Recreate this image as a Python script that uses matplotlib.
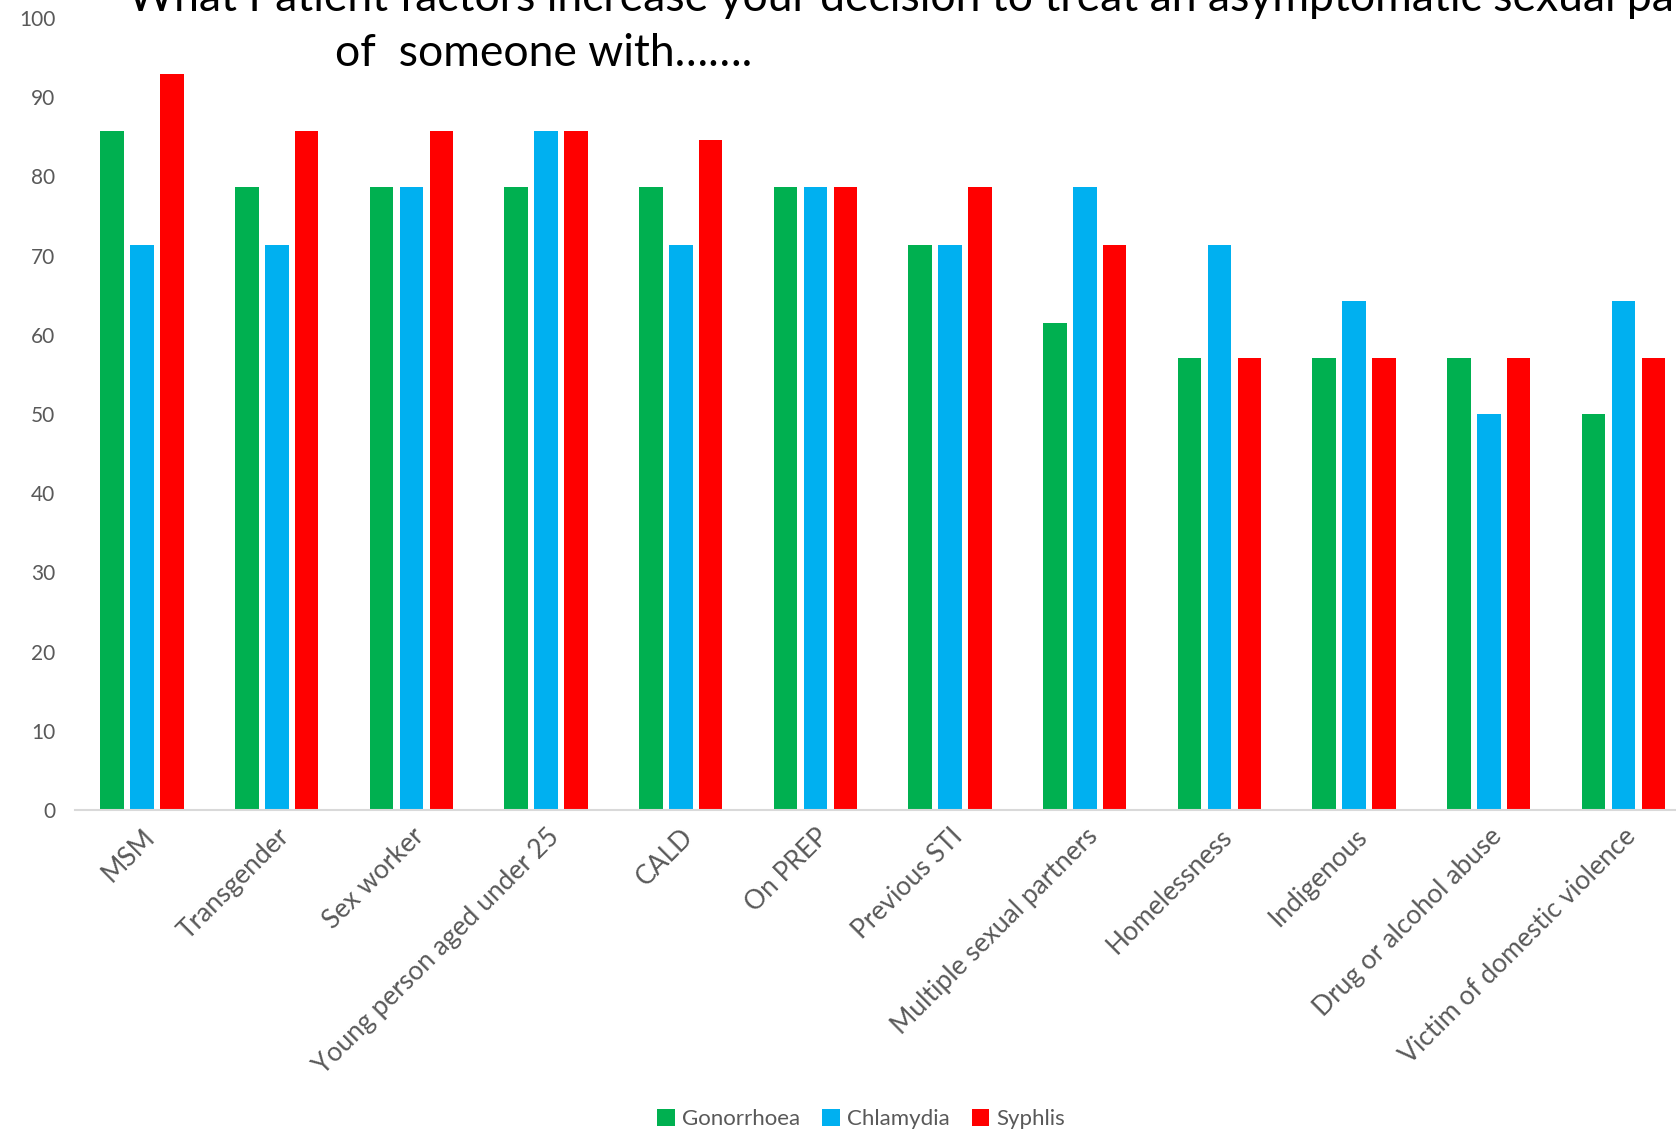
import numpy as np
import matplotlib.pyplot as plt

factors = [
    "MSM", "Transgender", "Sex worker", "Young person aged under 25", "CALD",
    "On PREP", "Previous STI", "Multiple sexual partners", "Homelessness",
    "Indigenous", "Drug or alcohol abuse", "Victim of domestic violence",
]
gonorrhoea = [85.7, 78.6, 78.6, 78.6, 78.6, 78.6, 71.4, 61.5, 57.1, 57.1, 57.1, 50.0]
chlamydia = [71.4, 71.4, 78.6, 85.7, 71.4, 78.6, 71.4, 78.6, 71.4, 64.3, 50.0, 64.3]
syphilis = [92.9, 85.7, 85.7, 85.7, 84.6, 78.6, 78.6, 71.4, 57.1, 57.1, 57.1, 57.1]

series = [
    ("Gonorrhoea", gonorrhoea, "#00B050"),
    ("Chlamydia", chlamydia, "#00B0F0"),
    ("Syphlis", syphilis, "#FF0000"),
]

plt.rcParams["font.family"] = ["Lato", "DejaVu Sans"]
grey = "#595959"

fig = plt.figure(figsize=(16.76, 11.35), dpi=100)
ax = fig.add_axes([74.8 / 1676, 1 - 810 / 1135, 1616 / 1676, (810 - 18) / 1135])

x = np.arange(len(factors))
width = 0.175
step = 0.222
for i, (name, vals, color) in enumerate(series):
    ax.bar(x + (i - 1) * step, vals, width, color=color, label=name)

ax.set_xlim(-0.5, len(factors) - 0.5)
ax.set_ylim(0, 100)
ax.set_yticks(range(0, 101, 10))
ax.set_xticks(x)
ax.set_xticklabels(factors, rotation=45, ha="right", rotation_mode="anchor")
ax.tick_params(axis="both", length=0, labelcolor=grey)
ax.tick_params(axis="x", labelsize=19, pad=10)
ax.tick_params(axis="y", labelsize=15, pad=14)
for side in ["top", "right", "left"]:
    ax.spines[side].set_visible(False)
ax.spines["bottom"].set_color("#D9D9D9")
ax.spines["bottom"].set_linewidth(1.5)

fig.text(128 / 1676, 1 - 11 / 1135,
         "What Patient factors increase your decision to treat an asymptomatic sexual partner",
         fontsize=32, color="black", ha="left", va="baseline")
fig.text(335 / 1676, 1 - 66 / 1135, "of  someone with…….",
         fontsize=32, color="black", ha="left", va="baseline")

fig.legend(loc="center", bbox_to_anchor=(861 / 1676, 1 - 1119 / 1135), ncol=3,
           frameon=False, fontsize=16, labelcolor=grey, handlelength=0.8,
           handleheight=0.8, handletextpad=0.3, columnspacing=1.0)

fig.savefig("out.png", dpi=100)
